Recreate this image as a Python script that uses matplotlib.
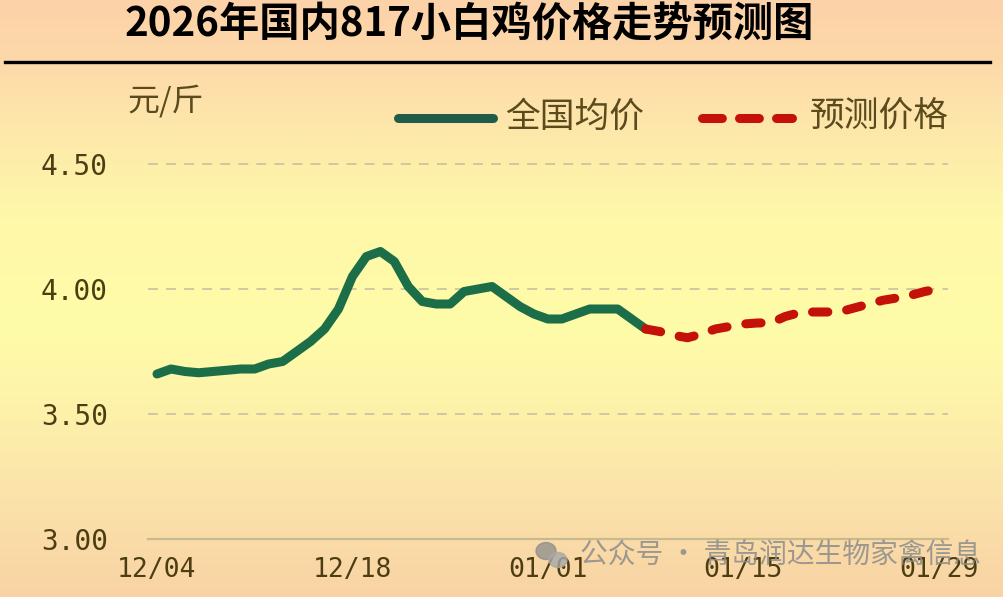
import numpy as np
import pandas as pd
import matplotlib
matplotlib.use('Agg')
import matplotlib.pyplot as plt
from matplotlib.colors import LinearSegmentedColormap
from matplotlib.lines import Line2D
from matplotlib.patches import Ellipse

CJK = ['Noto Sans CJK SC', 'DejaVu Sans']

# data (yuan / jin)
actual_price = [3.66, 3.68, 3.67, 3.665, 3.67, 3.675, 3.68, 3.68, 3.70, 3.71,
                3.75, 3.79, 3.84, 3.92, 4.05, 4.13, 4.15, 4.11, 4.01, 3.95,
                3.94, 3.94, 3.99, 4.00, 4.01, 3.97, 3.93, 3.90, 3.88, 3.88,
                3.90, 3.92, 3.92, 3.92, 3.88, 3.84]
forecast_price = [3.84, 3.83, 3.815, 3.805, 3.82, 3.84, 3.85, 3.86, 3.864, 3.865,
                  3.89, 3.905, 3.908, 3.908, 3.91, 3.925, 3.94, 3.955, 3.964, 3.975,
                  3.99, 4.00]
start_date = pd.Timestamp('2025-12-04')
actual_dates = pd.date_range(start_date, periods=len(actual_price))
forecast_dates = pd.date_range(actual_dates[-1], periods=len(forecast_price))
tick_labels = ['12/04', '12/18', '01/01', '01/15', '01/29']
y_ticks = [3.00, 3.50, 4.00, 4.50]

actual_x = (actual_dates - start_date).days.values
forecast_x = (forecast_dates - start_date).days.values
tick_x = [(pd.Timestamp(('2025-' if t.startswith('12') else '2026-') + t.replace('/', '-')) - start_date).days
          for t in tick_labels]

W, H = 1004, 597
fig = plt.figure(figsize=(W / 100, H / 100), dpi=100)

# background gradient: peach at top/bottom, pale yellow in the middle
bg = fig.add_axes([0, 0, 1, 1], zorder=-10)
stops = [(0.0, '#fcd2a8'), (60 / H, '#fdd9a9'), (130 / H, '#fde8ab'), (220 / H, '#fef8a9'),
         (330 / H, '#fffca8'), (420 / H, '#fdf0aa'), (500 / H, '#fbe2aa'), (1.0, '#f9d3a4')]
cmap = LinearSegmentedColormap.from_list('bg', stops)
grad = np.linspace(0, 1, 400).reshape(-1, 1)
bg.imshow(grad, aspect='auto', cmap=cmap, extent=[0, 1, 0, 1], origin='upper')
bg.axis('off')


def fx(px):
    return px / W


def fy(py):
    return 1 - py / H


# title + rule
fig.text(fx(469), fy(25), '2026年国内817小白鸡价格走势预测图', family=CJK, fontsize=29,
         fontweight='bold', color='black', ha='center', va='center')
fig.add_artist(Line2D([fx(5), fx(990)], [fy(62), fy(62)], color='black', lw=2.4,
                      transform=fig.transFigure))

# unit label
fig.text(fx(127), fy(101), '元/斤', family=CJK, fontsize=23, color='#5a4a1c', ha='left', va='center')

# legend drawn by hand
fig.add_artist(Line2D([fx(398), fx(493)], [fy(118), fy(118)], color='#1f5c4a', lw=6.5,
                      solid_capstyle='round', transform=fig.transFigure))
fig.text(fx(505), fy(117), '全国均价', family=CJK, fontsize=25, color='#5a4a1c', ha='left', va='center')
fig.add_artist(Line2D([fx(702), fx(792)], [fy(118), fy(118)], color='#c41208', lw=6.5,
                      linestyle=(0, (2.2, 1.9)), dash_capstyle='round', transform=fig.transFigure))
fig.text(fx(810), fy(117), '预测价格', family=CJK, fontsize=25, color='#5a4a1c', ha='left', va='center')

# main axes
ax = fig.add_axes([fx(148), fy(539), 800 / W, 389 / H])
ax.patch.set_alpha(0)
x_per_px = 1 / 13.96
ax.set_xlim(-9 * x_per_px, 791 * x_per_px)
ax.set_ylim(3.0, 3.0 + 389 / 250)

ax.plot(actual_x, actual_price, color='#1b6e47', lw=6.5, solid_capstyle='round',
        solid_joinstyle='round', zorder=3)
ax.plot(forecast_x, forecast_price, color='#c41208', lw=6.5, linestyle=(0, (1.7, 2.1)),
        dash_capstyle='round', zorder=3)

ax.set_yticks(y_ticks)
ax.set_yticklabels(['%.2f' % v for v in y_ticks])
ax.set_xticks(tick_x)
ax.set_xticklabels(tick_labels)
ax.tick_params(length=0)
ax.tick_params(axis='y', pad=29, labelsize=20, labelcolor='#4c3e12')
ax.tick_params(axis='x', pad=13, labelsize=19, labelcolor='#4c3e12')
for lab in ax.get_xticklabels() + ax.get_yticklabels():
    lab.set_family('DejaVu Sans Mono')

ax.grid(axis='y', color='#cbc5a2', lw=1.3, linestyle=(0, (5.5, 4.5)))
ax.grid(axis='x', visible=False)
for s in ['top', 'right', 'left']:
    ax.spines[s].set_visible(False)
ax.spines['bottom'].set_color('#c9b98e')
ax.spines['bottom'].set_linewidth(1.6)
ax.spines['bottom'].set_zorder(4)

# watermark
wm_col = '#8c8c8c'
fig.add_artist(Ellipse((fx(546), fy(551)), 20 / W, 17 / H, color=wm_col, alpha=0.75,
                       transform=fig.transFigure))
fig.add_artist(Ellipse((fx(558), fy(560)), 18 / W, 15 / H, color='#a8a8a8', alpha=0.8,
                       transform=fig.transFigure))
fig.text(fx(580), fy(556), '公众号 · 青岛润达生物家禽信息', family=CJK, fontsize=20,
         color=wm_col, alpha=0.85, ha='left', va='center')

fig.savefig('out.png', dpi=100)
